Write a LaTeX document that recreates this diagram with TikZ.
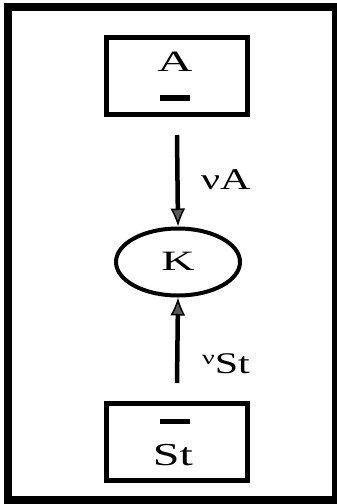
\documentclass[tikz,border=0pt]{standalone}
\usepackage{fontspec}
\usepackage{graphicx}
\setmainfont{Liberation Serif}
\usetikzlibrary{shapes.geometric,arrows.meta}
\newcommand\stretchtxt[2]{\scalebox{#1}[1]{#2}}
\begin{document}
\begin{tikzpicture}[x=1pt,y=-1pt,
  pool/.style={draw,line width=4.5pt,minimum width=141pt,minimum height=77pt,inner sep=0pt},
  txt/.style={inner sep=0pt,anchor=base},
  lbl/.style={inner sep=0pt,anchor=base west,font=\fontsize{30}{32}\selectfont},
  bar/.style={line width=5.5pt},
  flow/.style={line width=4.5pt,-{Latex[length=18pt,width=15pt,fill=gray!70!black,line width=1.5pt]}}]
\useasboundingbox (0,0) rectangle (337,504);
\draw[line width=8pt] (8,7) rectangle (336,500);
% box A
\node[pool] (boxA) at (177,76) {};
\node[txt,font=\fontsize{29.5}{30}\selectfont] (tA) at (175,71) {\stretchtxt{1.65}{A}};
\coordinate (mA1) at (160,98); \coordinate (mA2) at (190,98);
\draw[bar] (mA1) -- (mA2);
% circle K
\node[draw,ellipse,line width=4pt,minimum width=124pt,minimum height=67pt,inner sep=0pt] (K) at (178,262) {};
\node[txt,font=\fontsize{28}{30}\selectfont] (tK) at (178,270) {\stretchtxt{1.65}{K}};
% box St
\node[pool] (boxSt) at (177,442) {};
\node[txt,font=\fontsize{32}{34}\selectfont] (tSt) at (173,465) {\stretchtxt{1.5}{St}};
\coordinate (mS1) at (160,421.5); \coordinate (mS2) at (190,421.5);
\draw[bar] (mS1) -- (mS2);
% arrows
\coordinate (a1) at (177,135);
\draw[flow] (a1) -- (K.north);
\coordinate (a2) at (177,383);
\draw[flow] (a2) -- (K.south);
% labels
\node[lbl] (lA) at (201,189) {\stretchtxt{1.4}{νA}};
\node[lbl] (lSt) at (202,373) {\stretchtxt{1.4}{\raisebox{9pt}{\fontsize{20}{22}\selectfont ν}St}};
\end{tikzpicture}
\end{document}
